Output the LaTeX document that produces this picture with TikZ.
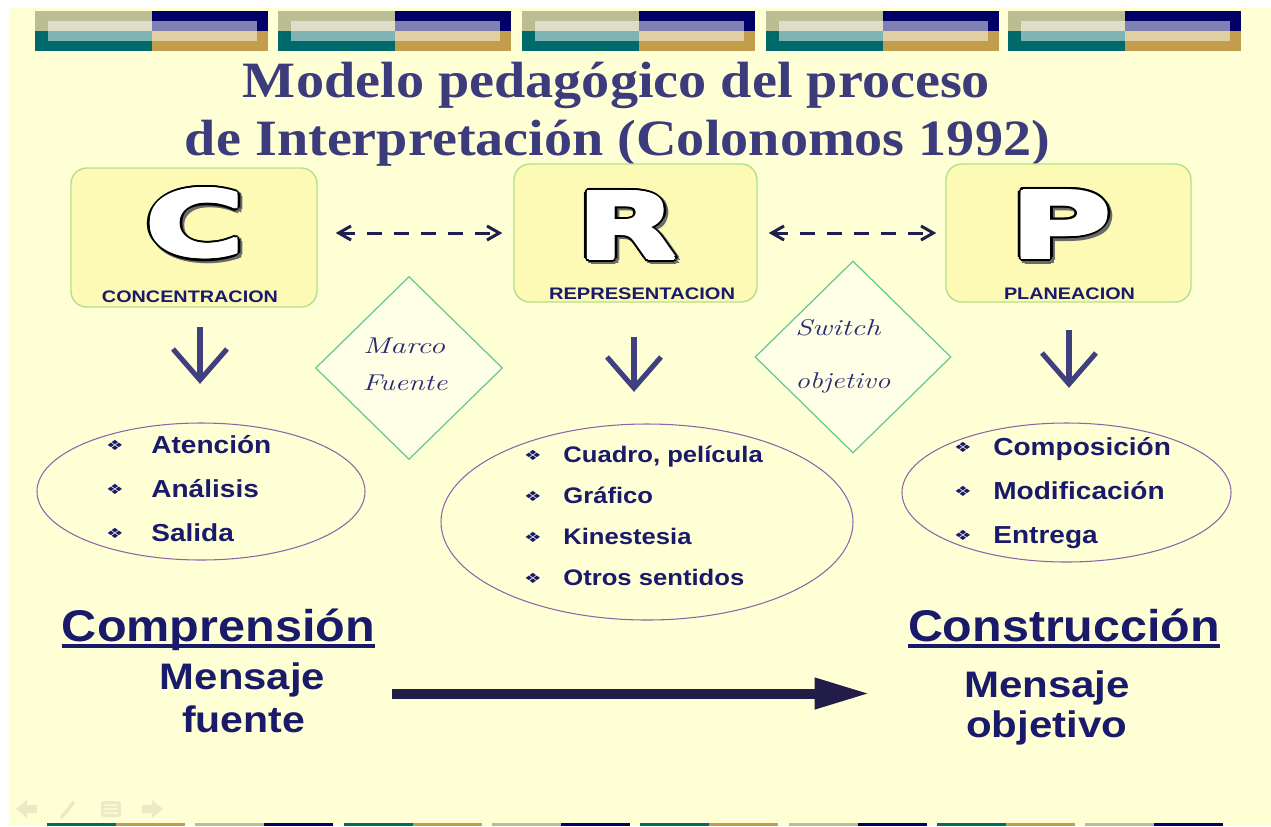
\documentclass[tikz,border=0pt]{standalone}
\usepackage{fontspec}
\usepackage{graphicx}
\usetikzlibrary{arrows.meta,shapes.geometric,calc}
\newfontfamily\serifb{Liberation Serif}
\newfontfamily\sansf{Liberation Sans}
\newfontfamily\djv{DejaVu Sans}
\newdimen\pxu \pxu=0.02cm
\newcommand\fitw[2]{\resizebox{#1\pxu}{\height}{#2}}
\newcommand\sxi[1]{\scalebox{1.14}[1]{#1}}
\newcommand\bulg{\scalebox{1.4}[1]{\djv\fontsize{8}{9}\selectfont ❖}}
\definecolor{bg}{HTML}{FFFFD6}
\definecolor{boxfill}{HTML}{FCFAB4}
\definecolor{boxline}{HTML}{B4E08C}
\definecolor{diafill}{HTML}{FFFFE8}
\definecolor{dialine}{HTML}{66C890}
\definecolor{ellline}{HTML}{8C64AA}
\definecolor{navy}{HTML}{1A1A6B}
\definecolor{navyb}{HTML}{2A2A70}
\definecolor{titlec}{HTML}{3C3C7C}
\definecolor{arrowc}{HTML}{404080}
\definecolor{dashc}{HTML}{1E1E50}
\definecolor{bigarr}{HTML}{221C48}
\definecolor{khaki}{HTML}{BBBE93}
\definecolor{tealc}{HTML}{006A6A}
\definecolor{bnavy}{HTML}{000066}
\definecolor{gold}{HTML}{C29D4C}
\definecolor{navf}{HTML}{EAEAC6}
\definecolor{shadowc}{HTML}{6A6A6A}
\newcommand\bigL[3]{%
  \def\bigglyph{\resizebox{#2\pxu}{#3\pxu}{\djv\bfseries #1}}%
  \foreach \ang in {0,45,...,315}{\pgfmathsetlengthmacro\ddx{1.5pt+2.3pt*cos(\ang)}\pgfmathsetlengthmacro\ddy{-1.5pt+2.3pt*sin(\ang)}\rlap{\hspace{\ddx}\raisebox{\ddy}{\color{shadowc}\bigglyph}}}%
  \foreach \ang in {0,22.5,...,337.5}{\pgfmathsetlengthmacro\ddx{2.3pt*cos(\ang)}\pgfmathsetlengthmacro\ddy{2.3pt*sin(\ang)}\rlap{\hspace{\ddx}\raisebox{\ddy}{\color{black}\bigglyph}}}%
  \foreach \ang in {0,45,...,315}{\pgfmathsetlengthmacro\ddx{1.1pt*cos(\ang)}\pgfmathsetlengthmacro\ddy{1.1pt*sin(\ang)}\rlap{\hspace{\ddx}\raisebox{\ddy}{\color{white}\bigglyph}}}%
  {\color{white}\bigglyph}}
\begin{document}
\begin{tikzpicture}[x=0.02cm,y=-0.02cm,
  titlef/.style={font=\serifb\bfseries\fontsize{29}{32}\selectfont, text=titlec, inner sep=0},
  cbox/.style={draw=boxline, fill=boxfill, rounded corners=9pt, line width=0.8pt, inner sep=0},
  lab/.style={font=\sansf\bfseries\fontsize{9.5}{11}\selectfont, text=navy, inner sep=0},
  dasharr/.style={draw=dashc, line width=1.7pt, dash pattern=on 8.5pt off 6.8pt,
     {Straight Barb[length=7pt,width=8pt]}-{Straight Barb[length=7pt,width=8pt]}},
  downarr/.style={draw=arrowc, line width=2.9pt, miter limit=10},
  dia/.style={diamond, draw=dialine, fill=diafill, line width=0.7pt, inner sep=0},
  dtext/.style={font=\itshape\fontsize{13}{15}\selectfont, text=navyb, inner sep=0},
  ell/.style={ellipse, draw=ellline, line width=0.6pt, inner sep=0},
  item/.style={font=\sansf\bfseries\fontsize{14}{16}\selectfont, text=navy, inner sep=0, anchor=base west},
  itemm/.style={font=\sansf\bfseries\fontsize{12.8}{15}\selectfont, text=navy, inner sep=0, anchor=base west},
  bul/.style={text=navy, inner sep=0},
  big/.style={font=\sansf\bfseries\fontsize{25.3}{28}\selectfont, text=navy, inner sep=0, anchor=base},
  med/.style={font=\sansf\bfseries\fontsize{21}{24}\selectfont, text=navy, inner sep=0, anchor=base},
  bigarrow/.style={draw=bigarr, line width=5.7pt, -{Triangle[length=31.5pt,width=16.5pt]}},
  uline/.style={draw=navy, line width=1.8pt}
]
\useasboundingbox (0,0) rectangle (1271,826);
\fill[white] (0,0) rectangle (1271,826);
\fill[bg] (9,8) rectangle (1271,826);
% top banner
\foreach \bx in {35,278,522,766,1008}{
  \fill[khaki] (\bx,11) rectangle ++(117,20);
  \fill[tealc] (\bx,31) rectangle ++(117,20);
  \fill[bnavy] (\bx+117,11) rectangle ++(116,20);
  \fill[gold] (\bx+117,31) rectangle ++(116,20);
  \fill[white,opacity=0.5] (\bx+13,21) rectangle ++(209,20);
}
% bottom strip
\foreach \bx in {47,343.6,640.2,936.8}{
  \fill[tealc] (\bx,823) rectangle ++(69,3);
  \fill[gold] (\bx+69,823) rectangle ++(69,3);
}
\foreach \bx in {195.3,491.9,788.5,1085.1}{
  \fill[khaki] (\bx,823) rectangle ++(69,3);
  \fill[bnavy] (\bx+69,823) rectangle ++(69,3);
}
% faint navigation icons
\fill[navf] (16,809) -- (27,800) -- (27,805) -- (37,805) -- (37,813) -- (27,813) -- (27,818) -- cycle;
\draw[navf, line width=2pt] (61,818) -- (74,802);
\fill[navf, rounded corners=1.5pt] (101,801) rectangle (121,817);
\foreach \yy in {805,809,813} \draw[bg!60!navf, line width=0.6pt] (104,\yy) -- (118,\yy);
\fill[navf] (163,809) -- (152,800) -- (152,805) -- (142,805) -- (142,813) -- (152,813) -- (152,818) -- cycle;
% title
\node[titlef, anchor=base] (t1) at (616.5,97) {\fitw{747}{Modelo pedagógico del proceso}};
\node[titlef, anchor=base] (t2) at (617.5,155) {\fitw{865}{de Interpretación (Colonomos 1992)}};
% boxes
\node[cbox, minimum width=246*\pxu, minimum height=139*\pxu] (boxC) at (194,237.5) {};
\node[cbox, minimum width=243*\pxu, minimum height=138*\pxu] (boxR) at (635.5,233) {};
\node[cbox, minimum width=245*\pxu, minimum height=138*\pxu] (boxP) at (1068.5,233) {};
\node[inner sep=0] (LC) at (195,224.5) {\bigL{C}{100}{67}};
\node[inner sep=0] (LR) at (627,226.5) {\bigL{R}{100}{66}};
\node[inner sep=0] (LP) at (1061,226) {\bigL{P}{102}{66}};
\node[lab, anchor=base] (lC) at (190,302) {\fitw{176}{CONCENTRACION}};
\node[lab, anchor=base] (lR) at (642,299) {\fitw{186}{REPRESENTACION}};
\node[lab, anchor=base] (lP) at (1069.5,299) {\fitw{131}{PLANEACION}};
% dashed arrows
\draw[dasharr, shorten <=18*\pxu, shorten >=11*\pxu] (boxC.east |- boxR.west) -- (boxR.west);
\draw[dasharr, shorten <=11*\pxu, shorten >=9*\pxu] (boxR.east) -- (boxP.west);
% down arrows
\coordinate (dC1) at (200,327); \coordinate (dC2) at (200,380);
\coordinate (dR1) at (634,337); \coordinate (dR2) at (634,388);
\coordinate (dP1) at (1069,330); \coordinate (dP2) at (1069,384);
\foreach \a/\b in {dC1/dC2,dR1/dR2,dP1/dP2}{
  \draw[downarr] (\a) -- (\b);
  \draw[downarr] ($(\b)+(-27,-31)$) -- (\b) -- ($(\b)+(27,-31)$);
}
% diamonds
\node[dia, minimum width=187*\pxu, minimum height=183*\pxu] (dM) at (409,368) {};
\node[dia, minimum width=196*\pxu, minimum height=192*\pxu] (dS) at (853,357) {};
\node[dtext, anchor=base] (m1) at (404,353) {\fitw{82}{Marco}};
\node[dtext, anchor=base] (m2) at (405,390) {\fitw{85}{Fuente}};
\node[dtext, anchor=base west] (s1) at (795,335) {\fitw{85}{Switch}};
\node[dtext, anchor=base west] (s2) at (795,388) {\fitw{95}{objetivo}};
% ellipses
\node[ell, minimum width=328*\pxu, minimum height=137*\pxu] (eL) at (201,491.5) {};
\node[ell, minimum width=412*\pxu, minimum height=196*\pxu] (eM) at (647,522) {};
\node[ell, minimum width=329*\pxu, minimum height=139*\pxu] (eR) at (1066.5,492.5) {};
% items left
\node[item] (iL1) at (151,453) {\sxi{Atención}};
\node[item] (iL2) at (151,497) {\sxi{Análisis}};
\node[item] (iL3) at (151,541) {\sxi{Salida}};
\node[bul] (bL1) at (115,445) {\bulg};
\node[bul] (bL2) at (115,489) {\bulg};
\node[bul] (bL3) at (115,533) {\bulg};
% items middle
\node[itemm] (iM1) at (563,462) {\sxi{Cuadro, película}};
\node[itemm] (iM2) at (563,503) {\sxi{Gráfico}};
\node[itemm] (iM3) at (563,544) {\sxi{Kinestesia}};
\node[itemm] (iM4) at (563,585) {\sxi{Otros sentidos}};
\node[bul] (bM1) at (533,455) {\bulg};
\node[bul] (bM2) at (533,496) {\bulg};
\node[bul] (bM3) at (533,537) {\bulg};
\node[bul] (bM4) at (533,578) {\bulg};
% items right
\node[item] (iR1) at (993,455) {\sxi{Composición}};
\node[item] (iR2) at (993,499) {\sxi{Modificación}};
\node[item] (iR3) at (993,543) {\sxi{Entrega}};
\node[bul] (bR1) at (963,447) {\bulg};
\node[bul] (bR2) at (963,491) {\bulg};
\node[bul] (bR3) at (963,535) {\bulg};
% bottom texts
\node[big] (comp) at (218.5,641) {\fitw{313}{Comprensión}};
\draw[uline] ($(comp.base west)+(0,5)$) -- ($(comp.base east)+(0,5)$);
\node[big] (cons) at (1064,641) {\fitw{312}{Construcción}};
\draw[uline] ($(cons.base west)+(0,5)$) -- ($(cons.base east)+(0,5)$);
\node[med] (mf1) at (242.5,689) {\fitw{165}{Mensaje}};
\node[med] (mf2) at (243.5,732) {\fitw{123}{fuente}};
\node[med] (mo1) at (1047,697) {\fitw{166}{Mensaje}};
\node[med] (mo2) at (1046.5,737) {\fitw{161}{objetivo}};
% big arrow
\coordinate (ba1) at (392,693.5);
\coordinate (ba2) at (870,693.5);
\draw[bigarrow] (ba1) -- (ba2);
\end{tikzpicture}
\end{document}
